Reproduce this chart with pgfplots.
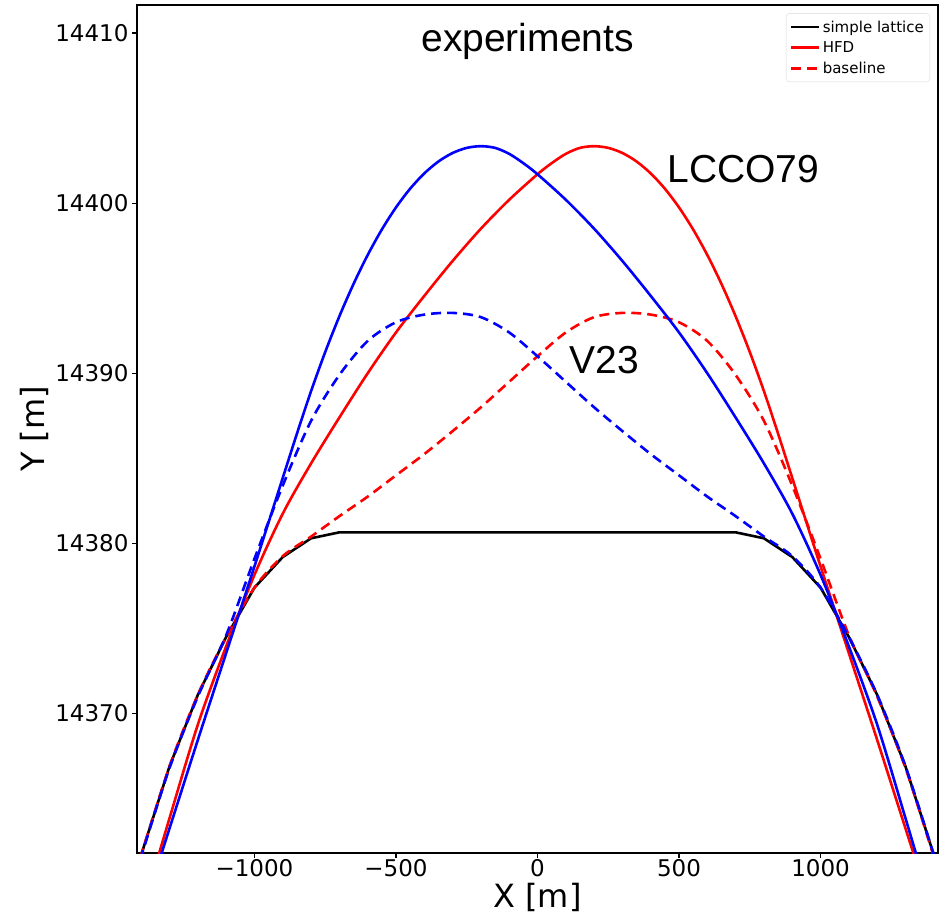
\documentclass[border=0pt]{standalone}
\usepackage{fontspec}
\setmainfont{DejaVu Sans}
\newfontfamily\arialfont{Liberation Sans}
\usepackage{pgfplots}
\usepackage{pgfplotstable}
\pgfplotsset{compat=1.18}

% HFD, LCCO79 (red solid)
\pgfplotstableread{
x y
-1380 14359.35
-1300 14363.85
-1200 14369.35
-1100 14373.95
-1000 14378.15
-900 14381.75
-800 14384.7
-700 14387.4
-600 14390.0
-500 14392.4
-400 14394.55
-300 14396.6
-200 14398.5
-100 14400.2
0 14401.7
50 14402.35
100 14402.9
150 14403.25
200 14403.35
250 14403.25
300 14402.95
350 14402.45
400 14401.75
450 14400.85
500 14399.75
550 14398.45
600 14396.95
650 14395.25
700 14393.35
750 14391.25
800 14388.95
850 14386.45
900 14383.85
1000 14378.65
1100 14373.55
1200 14368.45
1300 14363.25
1400 14358.05
}\hfdR

% HFD, mirrored (blue solid)
\pgfplotstableread{
x y
-1400 14358.05
-1300 14363.25
-1200 14368.45
-1100 14373.55
-1000 14378.65
-900 14383.85
-850 14386.45
-800 14388.95
-750 14391.25
-700 14393.35
-650 14395.25
-600 14396.95
-550 14398.45
-500 14399.75
-450 14400.85
-400 14401.75
-350 14402.45
-300 14402.95
-250 14403.25
-200 14403.35
-150 14403.25
-100 14402.9
-50 14402.35
0 14401.7
100 14400.2
200 14398.5
300 14396.6
400 14394.55
500 14392.4
600 14390.0
700 14387.4
800 14384.7
900 14381.75
1000 14378.15
1100 14373.95
1200 14369.35
1300 14363.85
1380 14359.35
}\hfdL

% baseline, V23 (red dashed)
\pgfplotstableread{
x y
-1420 14360.6
-1400 14361.7
-1300 14366.9
-1200 14371.1
-1100 14374.5
-1000 14377.4
-900 14379.25
-800 14380.4
-700 14381.6
-600 14382.75
-500 14384.0
-400 14385.25
-300 14386.6
-200 14388.0
-100 14389.5
0 14391.0
100 14392.4
200 14393.3
300 14393.55
400 14393.45
500 14393.0
600 14391.9
700 14389.9
800 14387.2
900 14383.4
1000 14379.1
1100 14374.6
1200 14371.0
1300 14366.8
1400 14361.6
1420 14360.5
}\baseR

% baseline, mirrored (blue dashed)
\pgfplotstableread{
x y
-1420 14360.5
-1400 14361.6
-1300 14366.8
-1200 14371.0
-1100 14374.6
-1000 14379.1
-900 14383.4
-800 14387.2
-700 14389.9
-600 14391.9
-500 14393.0
-400 14393.45
-300 14393.55
-200 14393.3
-100 14392.4
0 14391.0
100 14389.5
200 14388.0
300 14386.6
400 14385.25
500 14384.0
600 14382.75
700 14381.6
800 14380.4
900 14379.25
1000 14377.4
1100 14374.5
1200 14371.1
1300 14366.9
1400 14361.7
1420 14360.6
}\baseL

% simple lattice (black)
\pgfplotstableread{
x y
-1420 14360.6
-1400 14361.7
-1300 14366.9
-1200 14371.1
-1100 14374.5
-1000 14377.4
-900 14379.2
-800 14380.3
-700 14380.65
700 14380.65
800 14380.3
900 14379.2
1000 14377.4
1100 14374.5
1200 14371.1
1300 14366.9
1400 14361.7
1420 14360.6
}\lattice

\begin{document}
\begin{tikzpicture}
\useasboundingbox (-137pt,-63pt) rectangle (811pt,853pt);
\begin{axis}[
  at={(0,0)}, anchor=south west,
  scale only axis,
  width=801pt, height=848pt,
  xmin=-1415, xmax=1415,
  ymin=14361.8, ymax=14411.65,
  axis line style={black, line width=1.3pt},
  tick align=outside,
  tick pos=left,
  major tick length=5pt,
  tick style={black, line width=1.3pt},
  xtick={-1000,-500,0,500,1000},
  xticklabels={−1000,−500,0,500,1000},
  ytick={14370,14380,14390,14400,14410},
  yticklabels={14370,14380,14390,14400,14410},
  tick label style={font=\fontsize{23}{27}\selectfont},
  xticklabel style={yshift=2pt},
  yticklabel style={xshift=0pt},
  xlabel={X [m]},
  ylabel={Y [m]},
  label style={font=\fontsize{32}{38}\selectfont},
  xlabel style={at={(axis description cs:0.5,-0.053)}, anchor=center},
  ylabel style={at={(axis description cs:-0.128,0.5)}, anchor=center, rotate=0},
  legend image code/.code={\draw[#1] (0pt,0pt) -- (28pt,0pt);},
  legend cell align=left,
  legend style={at={(axis description cs:0.99,0.99)}, anchor=north east,
    font=\fontsize{15}{18}\selectfont, draw=black!15, rounded corners=3pt,
    inner xsep=4pt, inner ysep=5pt, row sep=4pt,
    nodes={inner sep=2pt}},
]
\addlegendimage{black, line width=2.6pt}
\addlegendentry{simple lattice}
\addlegendimage{red, line width=2.6pt}
\addlegendentry{HFD}
\addlegendimage{red, line width=2.6pt, dash pattern=on 10pt off 6pt}
\addlegendentry{baseline}

\addplot[forget plot, black, line width=2.6pt] table {\lattice};
\addplot[forget plot, red, line width=2.6pt, smooth, tension=0.5] table {\hfdR};
\addplot[forget plot, red, line width=2.6pt, smooth, tension=0.5, dash pattern=on 10pt off 6pt] table {\baseR};
\addplot[forget plot, blue, line width=2.6pt, smooth, tension=0.5] table {\hfdL};
\addplot[forget plot, blue, line width=2.6pt, smooth, tension=0.5, dash pattern=on 10pt off 6pt] table {\baseL};

\node[font=\arialfont\fontsize{39}{44}\selectfont] at (axis cs:-35,14409.5) {experiments};
\node[font=\arialfont\fontsize{39}{44}\selectfont] at (axis cs:727,14402.0) {LCCO79};
\node[font=\arialfont\fontsize{39}{44}\selectfont] at (axis cs:237,14390.8) {V23};
\end{axis}
\end{tikzpicture}
\end{document}
